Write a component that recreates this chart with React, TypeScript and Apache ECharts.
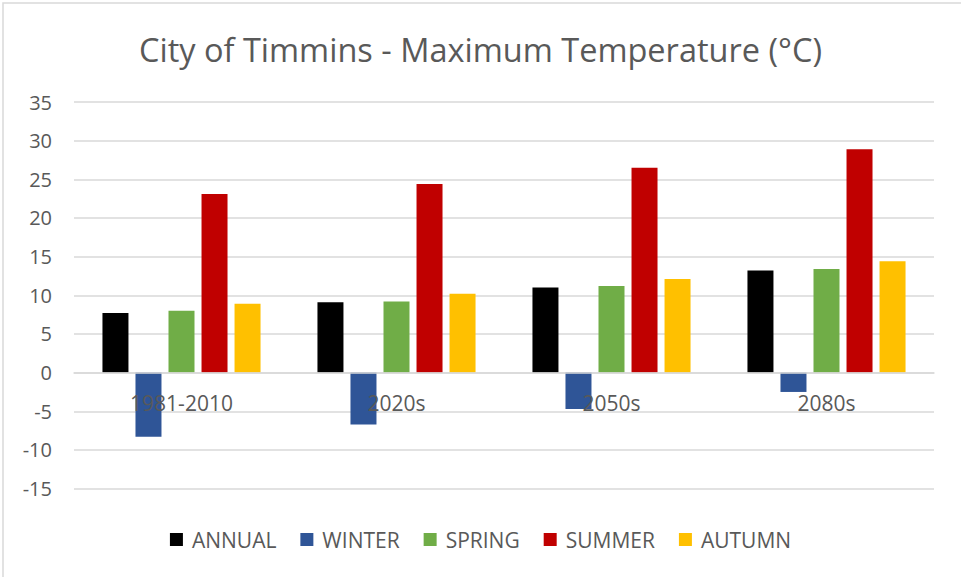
import React, { useEffect, useRef } from "react";
import * as echarts from "echarts";

const categories = ["1981-2010", "2020s", "2050s", "2080s"];
const seriesNames = ["ANNUAL", "WINTER", "SPRING", "SUMMER", "AUTUMN"];
const annual = [7.7, 9.1, 11.0, 13.2];
const winter = [-8.3, -6.7, -4.7, -2.5];
const spring = [8.0, 9.2, 11.2, 13.4];
const summer = [23.1, 24.4, 26.5, 28.9];
const autumn = [8.9, 10.2, 12.1, 14.4];
const seriesColors = ["#000000", "#2F5597", "#70AD47", "#C00000", "#FFC000"];
const yTicks = { min: -15, max: 35, interval: 5 };

const FONT = "'Open Sans', 'Noto Sans', sans-serif";

export default function App() {
  const ref = useRef<HTMLDivElement>(null);
  useEffect(() => {
    if (!ref.current) return;
    const chart = echarts.init(ref.current, undefined, { renderer: "svg" });
    const data = [annual, winter, spring, summer, autumn];
    chart.setOption({
      animation: false,
      backgroundColor: "#ffffff",
      title: {
        text: "City of Timmins - Maximum Temperature (°C)",
        left: "center",
        top: 28,
        textStyle: { fontFamily: FONT, fontSize: 32.5, fontWeight: "normal", color: "#595959" },
      },
      legend: {
        bottom: 22,
        left: "center",
        itemWidth: 13,
        itemHeight: 13,
        itemGap: 24,
        icon: "rect",
        textStyle: { fontFamily: FONT, fontSize: 21, color: "#595959", padding: [0, 0, 0, 4] },
        data: seriesNames,
      },
      grid: { left: 74, right: 27, top: 102, bottom: 88.4, containLabel: false },
      xAxis: {
        type: "category",
        data: categories,
        axisLine: { show: true, onZero: true, lineStyle: { color: "#d9d9d9", width: 1.5 } },
        axisTick: { show: false },
        axisLabel: { margin: -96, fontFamily: FONT, fontSize: 21, color: "#595959" },
        z: 10,
      },
      yAxis: {
        type: "value",
        min: yTicks.min,
        max: yTicks.max,
        interval: yTicks.interval,
        axisLine: { show: false },
        axisTick: { show: false },
        axisLabel: { margin: 22, fontFamily: FONT, fontSize: 20, color: "#595959" },
        splitLine: { lineStyle: { color: "#d9d9d9", width: 1.5 } },
      },
      graphic: [
        {
          type: "rect",
          shape: { x: 3, y: 3, width: 980, height: 600 },
          style: { fill: "none", stroke: "#d9d9d9", lineWidth: 1.5 },
          silent: true,
        },
      ],
      series: seriesNames.map((name, i) => ({
        name,
        type: "bar",
        data: data[i],
        barWidth: 26,
        barGap: "27%",
        itemStyle: { color: seriesColors[i] },
      })),
    });
    return () => chart.dispose();
  }, []);
  return (
    <div
      ref={ref}
      style={{ position: "fixed", left: 0, top: 0, width: 961, height: 577, background: "#fff" }}
    />
  );
}
